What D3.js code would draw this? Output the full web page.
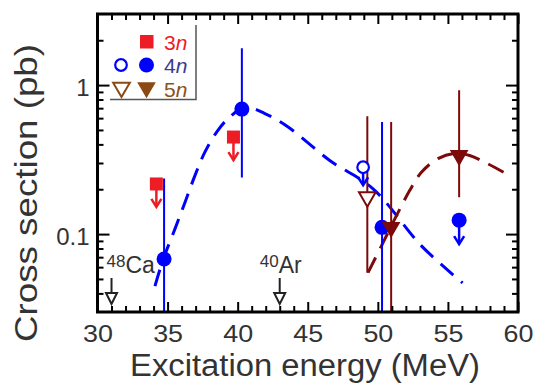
<!DOCTYPE html>
<html>
<head>
<meta charset="utf-8">
<script src="https://cdn.jsdelivr.net/npm/d3@7"></script>
<style>
  html, body { margin: 0; padding: 0; background: #fff; }
  svg { display: block; }
  text { font-family: "Liberation Sans", Arial, sans-serif; }
</style>
</head>
<body>
<svg id="chart" width="535" height="383"></svg>
<script>
// ---------------- data ----------------
const xDomain = [30, 60];
const yDomain = [0.03, 3];
const xMajorTicks = [30, 35, 40, 45, 50, 55, 60];
const xMinorTicks = d3.range(31, 60).filter(v => v % 5 !== 0);
const yMajorTicks = [0.1, 1];
const yMajorLabels = ["0.1", "1"];
const yMinorTicks = [0.04, 0.05, 0.06, 0.07, 0.08, 0.09, 0.2, 0.3, 0.4, 0.5, 0.6, 0.7, 0.8, 0.9, 2];

// 3n: upper limits (red squares with arrows)
const e3nLim = [34.2, 39.7];
const s3nLim = [0.217, 0.448];

// 4n: measured points (filled blue circles) with error bars
const e4n = [34.75, 40.3, 50.3];
const s4n = [0.068, 0.69, 0.111];
const s4nHi = [0.236, 1.77, 0.566];
const s4nLo = [0.001, 0.24, 0.001];

// 4n: upper limits
const e4nLimFilled = [55.8];
const s4nLimFilled = [0.124];
const e4nLimOpen = [48.95];
const s4nLimOpen = [0.281];

// 5n: open triangle with error bar
const e5nOpen = [49.25];
const s5nOpen = [0.177];
const s5nOpenHi = [0.618];
const s5nOpenLo = [0.055];

// 5n: filled triangles with error bars
const e5n = [50.95, 55.8];
const s5n = [0.111, 0.337];
const s5nHi = [0.566, 0.925];
const s5nLo = [0.001, 0.177];

// dashed calculation curves
const curve4nE = [34.1, 34.69, 35.52, 36.24, 36.95, 37.66, 38.5, 39.32, 40.51, 41.94, 43.6, 46.57, 49.64, 53.11, 56.05];
const curve4nS = [0.0448, 0.0678, 0.108, 0.163, 0.247, 0.355, 0.484, 0.596, 0.711, 0.644, 0.523, 0.312, 0.202, 0.0834, 0.047];
const curve5nE = [49.3, 50.26, 51.33, 52.27, 53.11, 54.29, 55.48, 56.55, 57.62, 59.4];
const curve5nS = [0.0551, 0.0834, 0.133, 0.196, 0.26, 0.321, 0.348, 0.337, 0.304, 0.247];

// projectile markers
const projE = [31.0, 43.0];
const projMass = ["48", "40"];
const projSym = ["Ca", "Ar"];

const legendLabels = ["3", "4", "5"];
const xTitle = "Excitation energy (MeV)";
const yTitle = "Cross section (pb)";

// ---------------- styles ----------------
const RED = "#ee1c24", BLUE = "#0000ff", MAROON = "#7d0a0a", BROWN = "#8b4a12";
const TEXT = "#333333";

const L = 97.5, R = 518, T = 14, B = 312;
const svg = d3.select("#chart");
const x = d3.scaleLinear().domain(xDomain).range([L, R]);
const y = d3.scaleLog().domain(yDomain).range([B, T]);

svg.append("clipPath").attr("id", "clip")
  .append("rect").attr("x", L).attr("y", T).attr("width", R - L).attr("height", B - T);
const plot = svg.append("g").attr("clip-path", "url(#clip)");

// ---------------- axes ----------------
function styleAxis(g, labels) {
  g.select(".domain").remove();
  g.selectAll(".tick line").attr("stroke", "#000").attr("stroke-width", 2);
  if (!labels) g.selectAll(".tick text").remove();
  else g.selectAll(".tick text").attr("fill", TEXT).style("font-size", "24px");
}
svg.append("g").attr("transform", `translate(0,${B})`)
  .call(d3.axisBottom(x).tickValues(xMinorTicks).tickSize(-6).tickFormat(""))
  .call(g => styleAxis(g, false));
svg.append("g").attr("transform", `translate(0,${B})`)
  .call(d3.axisBottom(x).tickValues(xMajorTicks).tickSize(-10).tickPadding(13).tickFormat(d3.format("d")))
  .call(g => styleAxis(g, true))
  .call(g => g.selectAll(".tick text").attr("transform", "scale(1.12,1)").each(function() {
    const t = d3.select(this); t.attr("x", 0);
  }));
svg.append("g").attr("transform", `translate(0,${T})`)
  .call(d3.axisTop(x).tickValues(xMinorTicks).tickSize(-6).tickFormat(""))
  .call(g => styleAxis(g, false));
svg.append("g").attr("transform", `translate(0,${T})`)
  .call(d3.axisTop(x).tickValues(xMajorTicks).tickSize(-10).tickFormat(""))
  .call(g => styleAxis(g, false));
svg.append("g").attr("transform", `translate(${L},0)`)
  .call(d3.axisLeft(y).tickValues(yMinorTicks).tickSize(-6).tickFormat(""))
  .call(g => styleAxis(g, false));
svg.append("g").attr("transform", `translate(${L},0)`)
  .call(d3.axisLeft(y).tickValues(yMajorTicks).tickSize(-12).tickPadding(8)
        .tickFormat((d, i) => yMajorLabels[i]))
  .call(g => styleAxis(g, true))
  .call(g => g.selectAll(".tick text").attr("dy", "0.45em"));
svg.append("g").attr("transform", `translate(${R},0)`)
  .call(d3.axisRight(y).tickValues(yMinorTicks).tickSize(-6).tickFormat(""))
  .call(g => styleAxis(g, false));
svg.append("g").attr("transform", `translate(${R},0)`)
  .call(d3.axisRight(y).tickValues(yMajorTicks).tickSize(-12).tickFormat(""))
  .call(g => styleAxis(g, false));

// ---------------- curves ----------------
const line = d3.line().x(d => x(d[0])).y(d => y(d[1])).curve(d3.curveCatmullRom.alpha(0.5));
plot.append("path")
  .attr("d", line(curve4nE.map((e, i) => [e, curve4nS[i]])))
  .attr("fill", "none").attr("stroke", BLUE).attr("stroke-width", 3)
  .attr("stroke-dasharray", "17,10");
plot.append("path")
  .attr("d", line(curve5nE.map((e, i) => [e, curve5nS[i]])))
  .attr("fill", "none").attr("stroke", MAROON).attr("stroke-width", 3)
  .attr("stroke-dasharray", "17,10");

// ---------------- error bars ----------------
function errBars(E, HI, LO, color) {
  plot.selectAll(null).data(E).enter().append("line")
    .attr("x1", d => x(d)).attr("x2", d => x(d))
    .attr("y1", (d, i) => y(HI[i])).attr("y2", (d, i) => y(LO[i]))
    .attr("stroke", color).attr("stroke-width", 2);
}
errBars(e4n, s4nHi, s4nLo, BLUE);
errBars(e5nOpen, s5nOpenHi, s5nOpenLo, MAROON);
errBars(e5n, s5nHi, s5nLo, MAROON);

// ---------------- upper-limit arrows ----------------
function limitArrows(E, S, color, len) {
  const g = plot.append("g");
  E.forEach((e, i) => {
    const cx = x(e), cy = y(S[i]), tip = cy + len;
    g.append("line").attr("x1", cx).attr("x2", cx).attr("y1", cy).attr("y2", tip - 1)
      .attr("stroke", color).attr("stroke-width", 2.5);
    g.append("path").attr("d", `M${cx - 5},${tip - 8}L${cx},${tip}L${cx + 5},${tip - 8}`)
      .attr("fill", "none").attr("stroke", color).attr("stroke-width", 2.5);
  });
}
limitArrows(e3nLim, s3nLim, RED, 23);
limitArrows(e4nLimFilled, s4nLimFilled, BLUE, 24);
limitArrows(e4nLimOpen, s4nLimOpen, BLUE, 18);

// ---------------- markers ----------------
const triDown = d3.symbol().type(d3.symbolTriangle).size(150);
plot.selectAll(null).data(e3nLim).enter().append("rect")
  .attr("x", d => x(d) - 6.5).attr("y", (d, i) => y(s3nLim[i]) - 6.5)
  .attr("width", 13).attr("height", 13).attr("fill", RED);
plot.selectAll(null).data(e4n.concat(e4nLimFilled)).enter().append("circle")
  .attr("cx", d => x(d)).attr("cy", (d, i) => y(s4n.concat(s4nLimFilled)[i]))
  .attr("r", 7.5).attr("fill", BLUE);
plot.selectAll(null).data(e4nLimOpen).enter().append("circle")
  .attr("cx", d => x(d)).attr("cy", (d, i) => y(s4nLimOpen[i]))
  .attr("r", 5.8).attr("fill", "#fff").attr("stroke", BLUE).attr("stroke-width", 2.2);
plot.selectAll(null).data(e5nOpen).enter().append("path")
  .attr("d", d3.symbol().type(d3.symbolTriangle).size(120)())
  .attr("transform", (d, i) => `translate(${x(d)},${y(s5nOpen[i])}) rotate(180)`)
  .attr("fill", "#fff").attr("stroke", MAROON).attr("stroke-width", 2);
plot.selectAll(null).data(e5n).enter().append("path")
  .attr("d", triDown())
  .attr("transform", (d, i) => `translate(${x(d)},${y(s5n[i])}) rotate(180)`)
  .attr("fill", MAROON);

// ---------------- projectile annotations ----------------
projE.forEach((e, i) => {
  const cx = x(e);
  svg.append("line").attr("x1", cx).attr("x2", cx).attr("y1", 278).attr("y2", 293)
    .attr("stroke", "#222").attr("stroke-width", 2);
  svg.append("path").attr("d", `M${cx - 5.5},${293}L${cx + 5.5},${293}L${cx},${304}Z`)
    .attr("fill", "#fff").attr("stroke", "#222").attr("stroke-width", 2);
});
const annOffset = [-5, -20];
projE.forEach((e, i) => {
  const t = svg.append("text").attr("x", x(e) + annOffset[i]).attr("y", 273)
    .attr("fill", TEXT);
  t.append("tspan").text(projMass[i]).style("font-size", "17px").attr("dy", -6);
  t.append("tspan").text(projSym[i]).style("font-size", "23px").attr("dy", 6);
});

// ---------------- frame ----------------
svg.append("rect").attr("x", L).attr("y", T).attr("width", R - L).attr("height", B - T)
  .attr("fill", "none").attr("stroke", "#000").attr("stroke-width", 3);

// ---------------- legend ----------------
const lg = svg.append("g");
lg.append("path").attr("d", "M110,99.5H196V25").attr("fill", "none")
  .attr("stroke", "#555").attr("stroke-width", 1.5);
lg.append("rect").attr("x", 140).attr("y", 35).attr("width", 13.5).attr("height", 13.5).attr("fill", RED);
lg.append("circle").attr("cx", 121).attr("cy", 65).attr("r", 5.8)
  .attr("fill", "#fff").attr("stroke", BLUE).attr("stroke-width", 2.2);
lg.append("circle").attr("cx", 146.5).attr("cy", 65).attr("r", 7.5).attr("fill", BLUE);
lg.append("path").attr("d", d3.symbol().type(d3.symbolTriangle).size(120)())
  .attr("transform", "translate(121.5,87.5) rotate(180)")
  .attr("fill", "#fff").attr("stroke", BROWN).attr("stroke-width", 2);
lg.append("path").attr("d", triDown())
  .attr("transform", "translate(146.5,87.5) rotate(180)").attr("fill", BROWN);
const legendColors = [RED, "#3b3b8f", "#8b5318"];
const legendBase = [50, 72.5, 96.5];
legendLabels.forEach((l, i) => {
  const t = lg.append("text").attr("x", 164).attr("y", legendBase[i])
    .attr("fill", legendColors[i]).style("font-size", "21px");
  t.append("tspan").text(l);
  t.append("tspan").text("n").style("font-style", "italic");
});

// ---------------- axis titles ----------------
svg.append("text").attr("x", 305).attr("y", 376).attr("text-anchor", "middle")
  .attr("fill", TEXT).style("font-size", "31px")
  .attr("textLength", 350).attr("lengthAdjust", "spacingAndGlyphs").text(xTitle);
svg.append("text").attr("transform", "translate(37,193) rotate(-90)")
  .attr("text-anchor", "middle").attr("fill", TEXT).style("font-size", "31px")
  .attr("textLength", 298).attr("lengthAdjust", "spacingAndGlyphs").text(yTitle);
</script>
</body>
</html>
